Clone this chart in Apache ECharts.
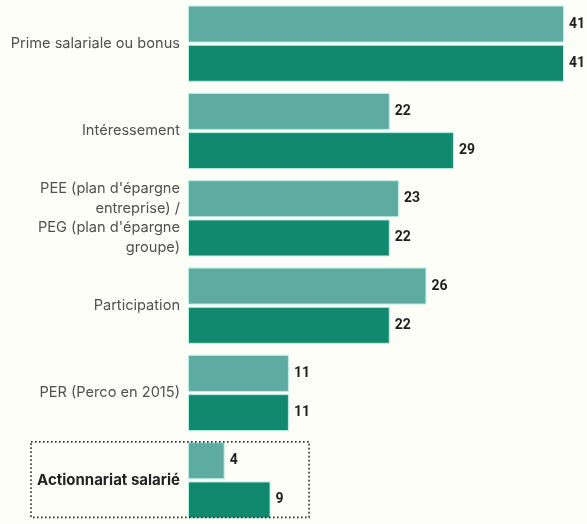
<!DOCTYPE html>
<html>
<head>
<meta charset="utf-8">
<script src="https://cdn.jsdelivr.net/npm/echarts@6/dist/echarts.min.js"></script>
<style>
  html, body { margin: 0; padding: 0; background: #fefef8; }
  #chart { width: 587px; height: 524px; }
</style>
</head>
<body>
<div id="chart"></div>
<script>
// Dispositifs d'épargne salariale (en %)
const categories = [
  'Prime salariale ou bonus',
  'Intéressement',
  "PEE (plan d'épargne\nentreprise) /\nPEG (plan d'épargne\ngroupe)",
  'Participation',
  'PER (Perco en 2015)',
  'Actionnariat salarié'
];
const values2015 = [41, 22, 23, 26, 11, 4];
const valuesNow = [41, 29, 22, 22, 11, 9];
const highlighted = 'Actionnariat salarié';
const highlightReach = 13.2; // right edge of the dotted frame, in axis units

const BAR_W = 37;
const chart = echarts.init(document.getElementById('chart'));

const valueLabel = {
  show: true,
  position: 'right',
  distance: 5,
  color: '#1e1e1e',
  fontFamily: 'Roboto, sans-serif',
  fontWeight: 'bold',
  fontSize: 14
};

chart.setOption({
  backgroundColor: '#fefef8',
  animation: false,
  grid: { left: 188, right: 23, top: 0, bottom: -2, containLabel: false },
  xAxis: {
    type: 'value', min: 0, max: 41,
    show: false
  },
  yAxis: {
    type: 'category',
    inverse: true,
    data: categories,
    axisLine: { show: false },
    axisTick: { show: false },
    axisLabel: {
      margin: 8,
      color: '#505050',
      fontFamily: 'Inter, sans-serif',
      fontSize: 14.6,
      lineHeight: 19.5,
      align: 'right',
      formatter: function (v) {
        return v === highlighted ? '{b|' + v + '}' : v;
      },
      rich: {
        b: { fontWeight: 'bold', color: '#222', fontSize: 15, fontFamily: 'Inter, sans-serif' }
      }
    }
  },
  series: [
    {
      name: '2015',
      type: 'bar',
      data: values2015,
      barWidth: BAR_W,
      barGap: '6%',
      itemStyle: { color: '#5eaca1', borderColor: '#b8eee4', borderWidth: 1 },
      label: valueLabel
    },
    {
      name: '2023',
      type: 'bar',
      data: valuesNow,
      barWidth: BAR_W,
      itemStyle: { color: '#11896f', borderColor: '#b8eee4', borderWidth: 1 },
      label: valueLabel
    }
  ]
});

// Dotted frame around the highlighted category
function drawFrame() {
  const idx = categories.indexOf(highlighted);
  const center = chart.convertToPixel({ yAxisIndex: 0 }, idx);
  const right = chart.convertToPixel({ xAxisIndex: 0 }, highlightReach);
  const left = 31;
  const top = center - 38.5;
  const bottom = center + 37;
  chart.setOption({
    graphic: [{
      type: 'rect',
      z: 10,
      shape: { x: left, y: top, width: right - left, height: bottom - top },
      style: { fill: 'none', stroke: '#333', lineWidth: 1.6, lineDash: [1.6, 2.4] }
    }]
  });
}
drawFrame();
</script>
</body>
</html>
